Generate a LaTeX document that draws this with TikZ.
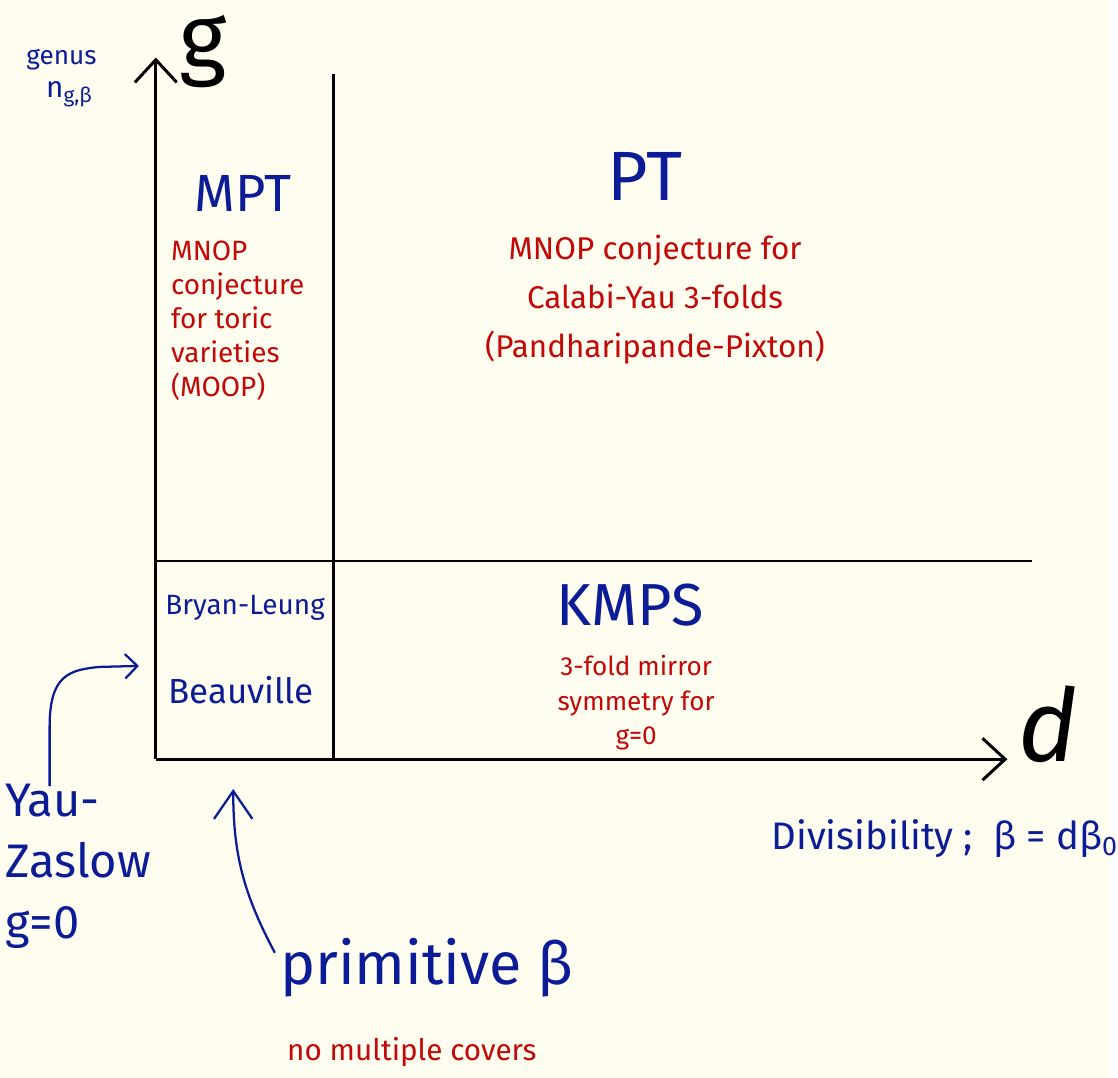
\documentclass[tikz,border=0pt]{standalone}
\usepackage{fontspec}
\setmainfont{Fira Sans}
\usepackage{tikz}
\usetikzlibrary{arrows.meta}
\definecolor{paper}{RGB}{255,253,240}
\definecolor{ink}{RGB}{12,28,150}
\definecolor{redink}{RGB}{196,8,8}
\newcommand{\fs}[2]{\fontsize{#1}{#2}\selectfont}
\tikzstyle{axis}=[line width=1.7pt, -{Straight Barb[length=13pt,width=24pt,line width=1.7pt]}]
\tikzstyle{divider}=[line width=1.4pt]
\tikzstyle{author}=[text=ink, inner sep=0pt]
\tikzstyle{claim}=[text=redink, inner sep=0pt]
\tikzstyle{pointer}=[ink, line width=1.3pt]

\begin{document}
\begin{tikzpicture}[x=0.02cm, y=0.02cm]
        \fill[paper] (0,0) rectangle (1118,-1086);
        % axes and the two dividers
        \coordinate (origin) at (157,-765);
        \coordinate (ytop) at (157,-58);
        \coordinate (xend) at (1015,-765);
        \coordinate (vtop) at (336,-75);
        \coordinate (vbot) at (336,-767);
        \coordinate (hleft) at (157,-565);
        \coordinate (hright) at (1040,-565);
        \draw[axis] (origin) -- (ytop);
        \draw[axis] (origin) -- (xend);
        \draw[divider] (vtop) -- (vbot);
        \draw[divider] (hleft) -- (hright);
        \node[inner sep=0pt, font=\fs{52}{52}] (glabel) at (205,-52) {g};
        \node[inner sep=0pt, font=\fs{58}{58}\itshape] (dlabel) at (1056,-730) {d};
        \node[author, font=\fs{15}{15}] (genus) at (62,-60) {genus};
        \node[author, font=\fs{17}{17}] (ngb) at (70,-95) {n\textsubscript{g,β}};
        % upper left: MPT
        \node[author, font=\fs{30}{30}] (mpt) at (245,-195) {MPT};
        \node[claim, anchor=north west, align=left, font=\fs{16}{19.5}] (toric) at (172,-242)
            {MNOP\\conjecture\\for toric\\varieties\\(MOOP)};
        % upper right: PT
        \node[author, font=\fs{40}{40}] (pt) at (650,-178) {PT};
        \node[claim, align=center, font=\fs{18}{28}] (cy) at (660,-302)
            {MNOP conjecture for\\Calabi-Yau 3-folds\\(Pandharipande-Pixton)};
        % lower left
        \node[author, font=\fs{16}{16}] (bl) at (247,-612) {Bryan-Leung};
        \node[author, font=\fs{20}{20}] (beau) at (243,-695) {Beauville};
        % lower right: KMPS
        \node[author, font=\fs{34}{34}] (kmps) at (635,-610) {KMPS};
        \node[claim, align=center, font=\fs{15}{20}] (mirror) at (641,-708)
            {3-fold mirror\\symmetry for\\g=0};
        % labels below the axes
        \node[author, anchor=north west, align=left, font=\fs{27}{35}] (yz) at (5,-790)
            {Yau-\\Zaslow\\g=0};
        \node[author, font=\fs{34}{34}] (prim) at (430,-975) {primitive β};
        \node[claim, font=\fs{17}{17}] (nocov) at (415,-1060) {no multiple covers};
        \node[author, font=\fs{22}{22}] (divis) at (952,-845) {Divisibility ;\ \ β = dβ\textsubscript{0}};
        \coordinate (yzcol) at (50,0);
        \coordinate (yztip) at (140,-671);
        \coordinate (primtip) at (235,-795);
        \draw[pointer, -{Straight Barb[length=7pt,width=14pt,line width=1.3pt]}]
            (yz.north west -| yzcol) ++(0,-2) -- ++(0,60) .. controls (50,-680) and (70,-675) .. (100,-672) -- (yztip);
        \draw[pointer, -{Straight Barb[length=16pt,width=22pt,line width=1.3pt]}]
            (prim.west) ++(-5,15) .. controls (245,-900) and (235,-860) .. (primtip);
    \end{tikzpicture}
\end{document}
